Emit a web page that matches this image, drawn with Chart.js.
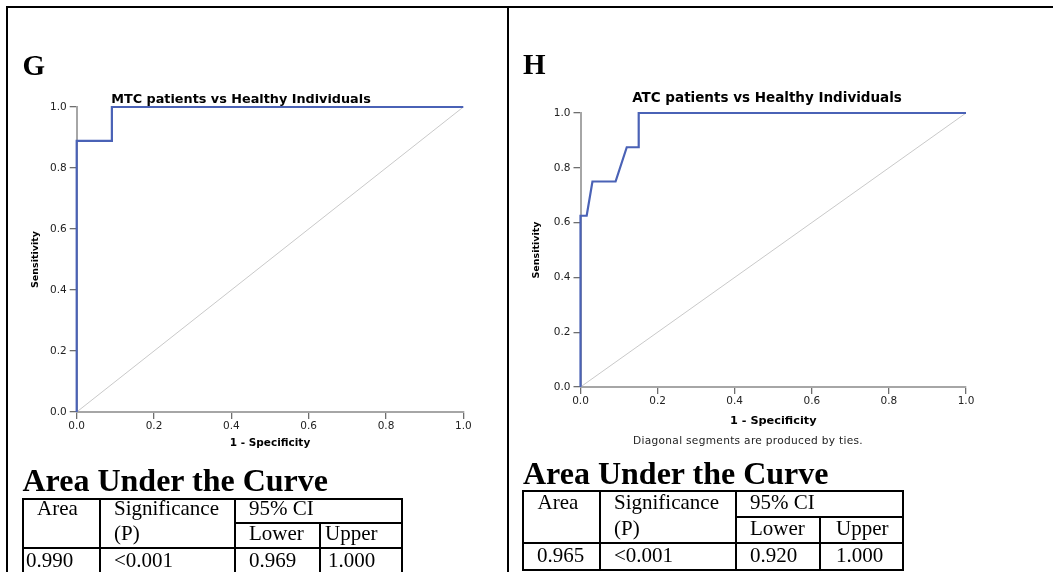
<!DOCTYPE html>
<html><head><meta charset="utf-8">
<script src="https://cdn.jsdelivr.net/npm/chart.js@4.4.1/dist/chart.umd.min.js"></script>
<style>
html,body{margin:0;padding:0;background:#fff;width:1053px;height:572px;overflow:hidden;position:relative;}
.ln{position:absolute;background:#000;}
.t{position:absolute;white-space:nowrap;line-height:1;}
.serif{font-family:"Liberation Serif","Times New Roman",serif;color:#000;}
.sans{font-family:"DejaVu Sans",sans-serif;color:#000;}
canvas{position:absolute;}
</style></head><body>
<canvas id="mtc" width="500" height="410" style="left:0px;top:60px;width:500px;height:410px"></canvas>
<canvas id="atc" width="500" height="410" style="left:510px;top:60px;width:500px;height:410px"></canvas>
<script>
// ---------- data ----------
const tickValues = [0, 0.2, 0.4, 0.6, 0.8, 1.0];
const refLineX = [0, 1];
const refLineY = [0, 1];
const mtcFalsePos = [0, 0, 0.091, 0.091, 1];
const mtcSensitivity = [0, 0.889, 0.889, 1, 1];
const atcFalsePos = [0, 0, 0.016, 0.031, 0.091, 0.12, 0.151, 0.151, 1];
const atcSensitivity = [0, 0.625, 0.625, 0.75, 0.75, 0.875, 0.875, 1, 1];
const panelLetters = ['G', 'H'];
const chartTitles = ['MTC patients vs Healthy Individuals', 'ATC patients vs Healthy Individuals'];
const xAxisTitle = '1 - Specificity';
const yAxisTitle = 'Sensitivity';
const footnote = 'Diagonal segments are produced by ties.';
const aucHeading = 'Area Under the Curve';
const aucHeader = ['Area', 'Significance', '(P)', '95% CI', 'Lower', 'Upper'];
const mtcAuc = ['0.990', '<0.001', '0.969', '1.000'];
const atcAuc = ['0.965', '<0.001', '0.920', '1.000'];

// ---------- helpers ----------
function line(x, y, w, h) {
  const d = document.createElement('div');
  d.className = 'ln';
  d.style.left = x + 'px'; d.style.top = y + 'px';
  d.style.width = w + 'px'; d.style.height = h + 'px';
  document.body.appendChild(d);
}
function txt(str, x, baseline, size, cls, opts) {
  opts = opts || {};
  const d = document.createElement('div');
  d.className = 't ' + cls;
  d.textContent = str;
  const asc = cls === 'serif' ? 0.8375 : 0.846;
  d.style.left = x + 'px';
  d.style.top = (baseline - asc * size) + 'px';
  d.style.fontSize = size + 'px';
  if (opts.bold) d.style.fontWeight = 'bold';
  if (opts.center) d.style.transform = 'translateX(-50%)';
  if (opts.color) d.style.color = opts.color;
  if (opts.ls) d.style.letterSpacing = opts.ls + 'px';
  document.body.appendChild(d);
}

// frame
line(6, 6, 1047, 2);
line(6, 6, 2, 566);
line(507, 6, 2, 566);

// panel letters
txt(panelLetters[0], 22.5, 75, 29, 'serif', {bold: true});
txt(panelLetters[1], 523, 74.5, 29, 'serif', {bold: true});

// chart titles
txt(chartTitles[0], 241, 104, 12.8, 'sans', {bold: true, center: true});
txt(chartTitles[1], 767, 102.5, 13.5, 'sans', {bold: true, center: true});

// footnote
txt(footnote, 748, 444, 10.6, 'sans', {center: true, color: '#222', ls: 0.3});

// AUC tables
function aucTable(g, vals) {
  txt(aucHeading, g.x0, g.headBase, 32, 'serif', {bold: true});
  const [c0, c1, c2, c3, c4] = g.cols;
  line(c0, g.top, c4 - c0 + 2, 2);
  line(c2, g.ci, c4 - c2 + 2, 2);
  line(c0, g.hdr, c4 - c0 + 2, 2);
  line(c0, g.bottom, c4 - c0 + 2, 2);
  [c0, c1, c2, c4].forEach(c => line(c, g.top, 2, g.bottom - g.top + 2));
  line(c3, g.ci, 2, g.bottom - g.ci + 2);
  const s = 21;
  txt(aucHeader[0], g.tx[0], g.b1, s, 'serif');
  txt(aucHeader[1], g.tx[1], g.b1, s, 'serif');
  txt(aucHeader[2], g.tx[1], g.b2, s, 'serif');
  txt(aucHeader[3], g.tx[2], g.b1, s, 'serif');
  txt(aucHeader[4], g.tx[2], g.b2, s, 'serif');
  txt(aucHeader[5], g.tx[3], g.b2, s, 'serif');
  txt(vals[0], g.vx[0], g.b3, s, 'serif');
  txt(vals[1], g.vx[1], g.b3, s, 'serif');
  txt(vals[2], g.vx[2], g.b3, s, 'serif');
  txt(vals[3], g.vx[3], g.b3, s, 'serif');
}
aucTable({x0: 22.5, headBase: 491, cols: [22, 99, 234, 319, 401], top: 498, ci: 522, hdr: 547, bottom: 574,
          tx: [37, 114, 249, 325], vx: [26, 114, 249, 328], b1: 516, b2: 541, b3: 567.5}, mtcAuc);
aucTable({x0: 523, headBase: 484, cols: [522, 599, 735, 819, 902], top: 490, ci: 516, hdr: 542, bottom: 569,
          tx: [537.5, 614, 750, 836], vx: [537, 614, 750, 836], b1: 510, b2: 536, b3: 562.5}, atcAuc);

// ---------- charts ----------
function makeRoc(id, fpr, tpr, g) {
  const pts = fpr.map((x, i) => ({x: x, y: tpr[i]}));
  const ref = refLineX.map((x, i) => ({x: x, y: refLineY[i]}));
  const tickFont = {family: 'DejaVu Sans', size: 10.5};
  const common = {
    type: 'linear', min: 0, max: 1,
    afterBuildTicks: s => { s.ticks = tickValues.map(v => ({value: v})); },
    grid: {display: true, drawOnChartArea: false, drawTicks: true, tickLength: 7, color: '#6e6e6e', lineWidth: 1.3},
    border: {display: true, color: '#a6a6a6', width: 2}
  };
  return new Chart(document.getElementById(id), {
    type: 'scatter',
    data: {datasets: [
      {data: pts, showLine: true, borderColor: '#4a62b6', borderWidth: 2.2, pointRadius: 0, tension: 0, fill: false, clip: false, order: 0},
      {data: ref, showLine: true, borderColor: '#c9c9c9', borderWidth: 1, pointRadius: 0, tension: 0, fill: false, order: 1}
    ]},
    options: {
      responsive: false, animation: false, devicePixelRatio: 1,
      layout: {padding: {left: 0, top: g.padTop, right: g.padRight, bottom: 0}},
      plugins: {legend: {display: false}, tooltip: {enabled: false}, title: {display: false}},
      scales: {
        x: Object.assign({}, common, {
          position: 'bottom',
          afterFit: s => { s.height = g.xH; },
          ticks: {font: tickFont, color: '#222', padding: 1, maxRotation: 0, autoSkip: false,
                  callback: v => Number(v).toFixed(1)},
          title: {display: true, text: xAxisTitle, color: '#000',
                  font: {family: 'DejaVu Sans', size: g.xTitleSize, weight: 'bold'},
                  padding: {top: 0, bottom: g.xTitlePb}}
        }),
        y: Object.assign({}, common, {
          position: 'left',
          afterFit: s => { s.width = g.yW; },
          ticks: {font: tickFont, color: '#222', padding: 3, autoSkip: false,
                  callback: v => Number(v).toFixed(1)},
          title: {display: true, text: yAxisTitle, color: '#000',
                  font: {family: 'DejaVu Sans', size: g.yTitleSize, weight: 'bold'},
                  padding: {top: g.yTitlePt, bottom: 0}}
        })
      }
    }
  });
}
makeRoc('mtc', mtcFalsePos, mtcSensitivity,
  {yW: 76.7, padTop: 47, padRight: 36.7, xH: 58, xTitlePb: 20.4, yTitlePt: 29.6, xTitleSize: 10.5, yTitleSize: 9.5});
makeRoc('atc', atcFalsePos, atcSensitivity,
  {yW: 70.5, padTop: 53, padRight: 44, xH: 83, xTitlePb: 42.4, yTitlePt: 21.3, xTitleSize: 11.3, yTitleSize: 9.5});
</script>
</body></html>
